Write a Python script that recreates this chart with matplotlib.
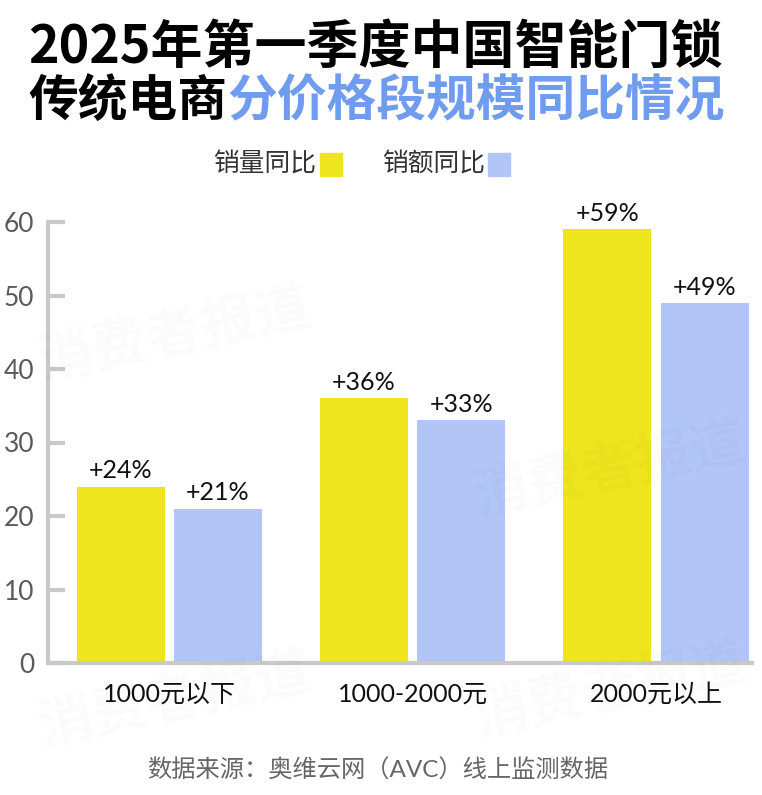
import matplotlib
matplotlib.use("Agg")
import matplotlib.pyplot as plt
import numpy as np

# Data
categories = ["1000元以下", "1000-2000元", "2000元以上"]
volume_yoy = [24, 36, 59]
sales_yoy = [21, 33, 49]
volume_labels = ["+24%", "+36%", "+59%"]
sales_labels = ["+21%", "+33%", "+49%"]
yticks = [0, 10, 20, 30, 40, 50, 60]

YELLOW = "#EEE51E"
BLUE = "#B1C5F6"
AXIS_GRAY = "#C9C9C9"
TITLE_BLUE = "#6F9CEF"

CJK = "Noto Sans CJK SC"
MIX = ['Lato', CJK, 'DejaVu Sans']
plt.rcParams['font.family'] = MIX

W, H = 762, 795
fig = plt.figure(figsize=(W / 100, H / 100), dpi=100)
fig.patch.set_facecolor("white")


def px(x, y):
    # pixel (from top-left) to figure fraction
    return x / W, 1 - y / H


# Axes
ax = fig.add_axes([48 / W, 132 / H, 704 / W, 441 / H])
x = np.arange(len(categories))
bw = 0.362
off = 0.2
b1 = ax.bar(x - off, volume_yoy, bw, color=YELLOW, zorder=2)
b2 = ax.bar(x + off, sales_yoy, bw, color=BLUE, zorder=2)

for bars, labels in [(b1, volume_labels), (b2, sales_labels)]:
    for rect, lab in zip(bars, labels):
        ax.annotate(lab, (rect.get_x() + rect.get_width() / 2, rect.get_height()),
                    xytext=(0, 3), textcoords="offset points", ha="center", va="bottom",
                    fontsize=18, color="#111111", family=MIX)

ax.set_xlim(-0.499, 2.395)
ax.set_ylim(0, 60)
ax.set_yticks(yticks)
ax.set_xticks(x)
ax.set_xticklabels(categories, fontsize=18, color="#111111")
for t in ax.get_yticklabels():
    t.set_fontsize(19)
    t.set_color("#5a5a5a")
ax.tick_params(axis="y", direction="in", length=12, width=3, color=AXIS_GRAY, pad=10)
ax.tick_params(axis="x", length=0, pad=14)
for s in ["top", "right"]:
    ax.spines[s].set_visible(False)
for s in ["left", "bottom"]:
    ax.spines[s].set_color(AXIS_GRAY)
    ax.spines[s].set_linewidth(3)
ax.set_facecolor("none")

# Watermarks
for (wx, wy) in [(175, 335), (610, 470), (175, 700), (610, 690)]:
    fx, fy = px(wx, wy)
    fig.text(fx, fy, "消费者报道", fontsize=40, color="#000000", alpha=0.018,
             family=CJK, fontweight="bold", rotation=12, ha="center", va="center", zorder=0)

# Title, fitted to width
fig.canvas.draw()
renderer = fig.canvas.get_renderer()


def fit_line(parts, left, right, yc, weight="black"):
    fs = 36
    for _ in range(3):
        texts = []
        xcur = left
        for s, c in parts:
            fx, fy = px(xcur, yc)
            t = fig.text(fx, fy, s, fontsize=fs, color=c, family=CJK,
                         fontweight=weight, ha="left", va="center")
            bb = t.get_window_extent(renderer)
            xcur += bb.width
            texts.append(t)
        total = xcur - left
        if abs(total - (right - left)) < 1:
            return texts
        for t in texts:
            t.remove()
        fs *= (right - left) / total
    return texts


fit_line([("2025年第一季度中国智能门锁", "#000000")], 28, 722, 47)
fit_line([("传统电商", "#000000"), ("分价格段规模同比情况", TITLE_BLUE)], 28, 724, 102)

# Legend
fig.text(*px(213, 165), "销量同比", fontsize=18.5, color="#333333", family=CJK,
         ha="left", va="center")
fig.patches.append(plt.Rectangle(px(320, 176), 22 / W, 23 / H, color=YELLOW,
                                 transform=fig.transFigure, figure=fig))
fig.text(*px(382, 165), "销额同比", fontsize=18.5, color="#333333", family=CJK,
         ha="left", va="center")
fig.patches.append(plt.Rectangle(px(488, 176), 22 / W, 23 / H, color=BLUE,
                                 transform=fig.transFigure, figure=fig))

# Footer
fig.text(*px(378, 770), "数据来源：奥维云网（AVC）线上监测数据", fontsize=17.5,
         color="#666666", family=MIX, ha="center", va="center")

fig.savefig("out.png", dpi=100, facecolor="white")
